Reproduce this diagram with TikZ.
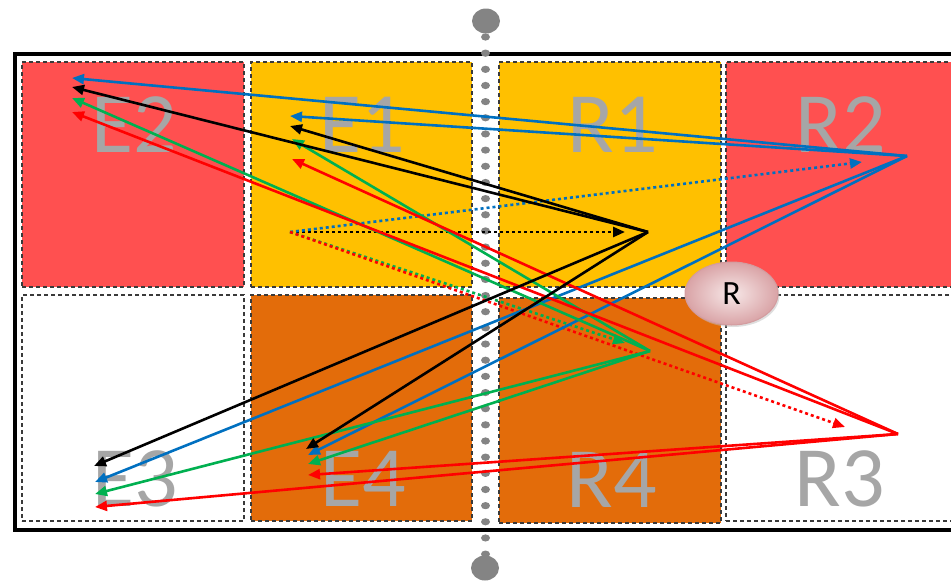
\documentclass[tikz,border=0pt]{standalone}
\usepackage{fontspec}
\newfontfamily\labfont{Carlito}
\usetikzlibrary{arrows.meta,shapes.geometric,shadows}
\definecolor{cred}{HTML}{FF5050}
\definecolor{cyellow}{HTML}{FFC000}
\definecolor{corange}{HTML}{E36C0A}
\definecolor{labgrey}{HTML}{A6A6A6}
\definecolor{netgrey}{HTML}{848484}
\definecolor{ablue}{HTML}{0070C0}
\definecolor{agreen}{HTML}{00B050}
\definecolor{ared}{HTML}{FF0000}
\definecolor{bordergrey}{HTML}{3A3A3A}
\definecolor{rin}{HTML}{F7E8E8}
\definecolor{rout}{HTML}{D9A3A6}
\definecolor{rborder}{HTML}{D39C9F}
\begin{document}
\begin{tikzpicture}[x=1pt,y=-1pt,
  cell/.style={draw=bordergrey, dash pattern=on 4pt off 3pt, line width=1.3pt, inner sep=0pt, minimum height=225pt},
  lab/.style={text=labgrey, font=\labfont\fontsize{86}{86}\selectfont, inner sep=0pt},
  arr/.style={line width=2.6pt, -{Triangle[length=12pt,width=10pt]}},
  darr/.style={arr, dash pattern=on 3pt off 3pt},
  netdot/.style={fill=netgrey}
]
\useasboundingbox (0,0) rectangle (951,582);
% frame
\draw[line width=3.5pt] (15,54) rectangle (975,530);
% cells
\node[cell, fill=cred, minimum width=222pt] (cE2) at (133,174.5) {};
\node[cell, fill=cyellow, minimum width=221pt] (cE1) at (361.5,174.5) {};
\node[cell, fill=cyellow, minimum width=222pt] (cR1) at (610,174.5) {};
\node[cell, fill=cred, minimum width=240pt] (cR2) at (846,174.5) {};
\node[cell, fill=white, minimum width=222pt, minimum height=226pt] (cE3) at (133,408) {};
\node[cell, fill=corange, minimum width=221pt, minimum height=226pt] (cE4) at (361.5,408) {};
\node[cell, fill=corange, minimum width=222pt, minimum height=225pt] (cR4) at (610,410.5) {};
\node[cell, fill=white, minimum width=240pt, minimum height=226pt] (cR3) at (846,408) {};
% labels
\node[lab] (lE2) at (134,124.5) {E2};
\node[lab] (lE1) at (362,124.5) {E1};
\node[lab] (lR1) at (613,124.5) {R1};
\node[lab] (lR2) at (841,124.5) {R2};
\node[lab] (lE3) at (135,479) {E3};
\node[lab] (lE4) at (363,479) {E4};
\node[lab] (lR4) at (612,480) {R4};
\node[lab] (lR3) at (840,479) {R3};
% net
\fill[netdot] (486,21) ellipse (14pt and 12.5pt);
\fill[netdot] (485,568) ellipse (14pt and 12.5pt);
\foreach \i in {0,...,32} {
  \fill[netdot] (485.5,37+\i*16.16) ellipse (4.5pt and 3.6pt);
}
% points
\coordinate (pR1) at (648,232);
\coordinate (pR2) at (907,156);
\coordinate (pR4) at (650,351);
\coordinate (pR3) at (898,434);
\coordinate (pE1) at (290,232);
\coordinate (kE2) at (72,87);
\coordinate (kE1) at (290,126);
\coordinate (kE3) at (94,466);
\coordinate (kE4) at (306,449);
\coordinate (bE2) at (72,78);
\coordinate (bE1) at (290,116);
\coordinate (bE3) at (95,482);
\coordinate (bE4) at (308,455);
\coordinate (gE2) at (72,98);
\coordinate (gE1) at (292,139);
\coordinate (gE3) at (95,494);
\coordinate (gE4) at (308,464);
\coordinate (rE2) at (72,112);
\coordinate (rE1) at (292,159);
\coordinate (rE3) at (95,507);
\coordinate (rE4) at (308,475);
\coordinate (dk) at (625,232);
\coordinate (db) at (862,162);
\coordinate (dg) at (625,343);
\coordinate (dr) at (845,427);
% dotted arrows
\draw[darr, black] (pE1) -- (dk);
\draw[darr, ablue] (pE1) -- (db);
\draw[darr, agreen] (pE1) -- (dg);
\draw[darr, ared] (pE1) -- (dr);
% solid arrows
\foreach \t in {bE2,bE1,bE3,bE4} \draw[arr, ablue] (pR2) -- (\t);
\foreach \t in {gE2,gE1,gE3,gE4} \draw[arr, agreen] (pR4) -- (\t);
\foreach \t in {rE2,rE1,rE3,rE4} \draw[arr, ared] (pR3) -- (\t);
\foreach \t in {kE2,kE1,kE3,kE4} \draw[arr, black] (pR1) -- (\t);
% R marker
\node[ellipse, minimum width=93pt, minimum height=63pt, inner sep=0pt,
  draw=rborder, line width=1pt, inner color=rin, outer color=rout,
  drop shadow={shadow xshift=1.5pt, shadow yshift=-2pt, fill=black!25, opacity=0.5},
  font=\labfont\fontsize{34}{34}\selectfont, text=black] (R) at (731.5,293.5) {\raisebox{-3pt}{R}};
\end{tikzpicture}
\end{document}
